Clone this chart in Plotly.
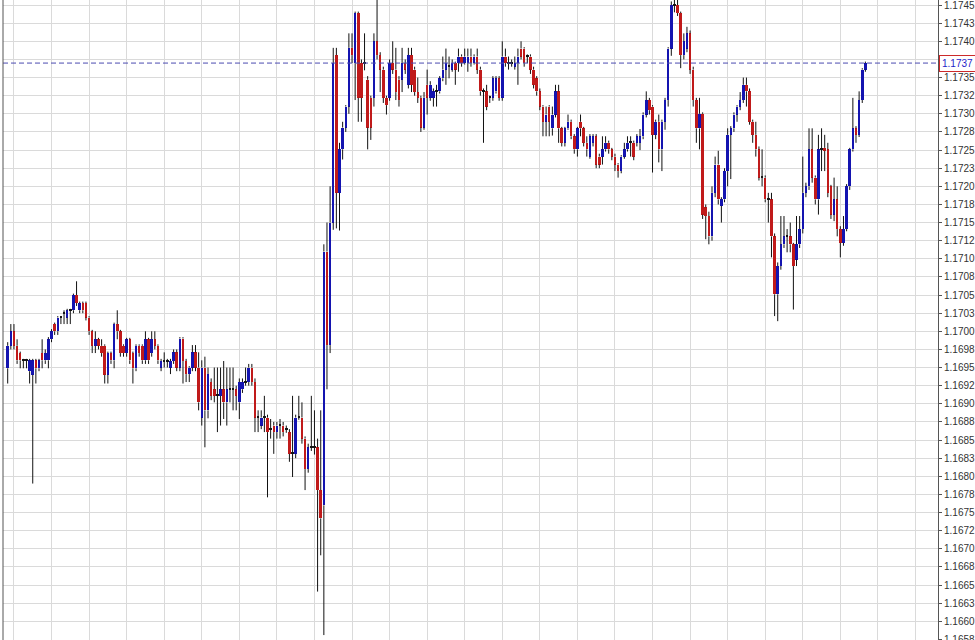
import plotly.graph_objects as go

# ---- OHLC data (one bar per entry) ----
bar_open = [
    1.16949, 1.16980, 1.17000, 1.16980, 1.16970, 1.16960, 1.16960, 1.16945, 1.16940, 1.16960,
    1.16949, 1.16970, 1.16960, 1.16960, 1.16989, 1.17010, 1.17000, 1.17019, 1.17024, 1.17019,
    1.17029, 1.17029, 1.17050, 1.17029, 1.17039, 1.17039, 1.17019, 1.17000, 1.16980, 1.16989,
    1.16980, 1.16980, 1.16940, 1.16970, 1.16960, 1.17010, 1.17000, 1.16980, 1.16970, 1.16989,
    1.16970, 1.16949, 1.16980, 1.16980, 1.16960, 1.16989, 1.16970, 1.16989, 1.16980, 1.16950,
    1.16959, 1.16959, 1.16950, 1.16959, 1.16971, 1.16950, 1.16990, 1.16959, 1.16941, 1.16950,
    1.16971, 1.16950, 1.16881, 1.16950, 1.16891, 1.16930, 1.16920, 1.16911, 1.16911, 1.16920,
    1.16902, 1.16920, 1.16920, 1.16920, 1.16902, 1.16920, 1.16930, 1.16930, 1.16950, 1.16930,
    1.16881, 1.16870, 1.16881, 1.16881, 1.16865, 1.16870, 1.16861, 1.16870, 1.16870, 1.16865,
    1.16861, 1.16831, 1.16831, 1.16881, 1.16881, 1.16852, 1.16810, 1.16840, 1.16840, 1.16840,
    1.16781, 1.16760, 1.17110, 1.16981, 1.17150, 1.17381, 1.17191, 1.17251, 1.17281, 1.17310,
    1.17391, 1.17370, 1.17439, 1.17370, 1.17370, 1.17347, 1.17322, 1.17322, 1.17400, 1.17381,
    1.17361, 1.17322, 1.17322, 1.17370, 1.17361, 1.17347, 1.17347, 1.17370, 1.17340, 1.17381,
    1.17361, 1.17330, 1.17322, 1.17281, 1.17340, 1.17322, 1.17322, 1.17331, 1.17331, 1.17349,
    1.17361, 1.17365, 1.17361, 1.17370, 1.17370, 1.17379, 1.17370, 1.17370, 1.17379, 1.17370,
    1.17379, 1.17361, 1.17331, 1.17331, 1.17322, 1.17322, 1.17331, 1.17349, 1.17322, 1.17379,
    1.17370, 1.17370, 1.17365, 1.17370, 1.17390, 1.17390, 1.17379, 1.17379, 1.17361, 1.17349,
    1.17331, 1.17310, 1.17289, 1.17310, 1.17280, 1.17299, 1.17331, 1.17280, 1.17260, 1.17280,
    1.17289, 1.17269, 1.17251, 1.17289, 1.17280, 1.17260, 1.17241, 1.17260, 1.17269, 1.17241,
    1.17241, 1.17251, 1.17260, 1.17251, 1.17241, 1.17230, 1.17221, 1.17241, 1.17251, 1.17260,
    1.17260, 1.17260, 1.17260, 1.17269, 1.17299, 1.17319, 1.17310, 1.17271, 1.17289, 1.17251,
    1.17289, 1.17319, 1.17390, 1.17450, 1.17450, 1.17439, 1.17381, 1.17390, 1.17411, 1.17361,
    1.17319, 1.17280, 1.17300, 1.17171, 1.17159, 1.17131, 1.17191, 1.17230, 1.17173, 1.17182,
    1.17221, 1.17271, 1.17280, 1.17299, 1.17310, 1.17319, 1.17340, 1.17331, 1.17289, 1.17271,
    1.17251, 1.17212, 1.17212, 1.17182, 1.17182, 1.17131, 1.17051, 1.17090, 1.17120, 1.17131,
    1.17131, 1.17120, 1.17099, 1.17120, 1.17141, 1.17191, 1.17200, 1.17251, 1.17212, 1.17182,
    1.17251, 1.17253, 1.17251, 1.17200, 1.17161, 1.17182, 1.17141, 1.17122, 1.17141, 1.17200,
    1.17251, 1.17280, 1.17271, 1.17319, 1.17361,
]
bar_high = [
    1.16985, 1.17010, 1.17010, 1.16989, 1.16972, 1.16962, 1.16962, 1.16962, 1.16962, 1.16962,
    1.16962, 1.16989, 1.16975, 1.16992, 1.17003, 1.17012, 1.17021, 1.17021, 1.17029, 1.17031,
    1.17031, 1.17052, 1.17069, 1.17041, 1.17041, 1.17041, 1.17021, 1.17002, 1.17000, 1.16991,
    1.16989, 1.16982, 1.16972, 1.16972, 1.17012, 1.17029, 1.17002, 1.16982, 1.16991, 1.16991,
    1.16972, 1.16982, 1.16982, 1.16982, 1.17000, 1.16991, 1.17000, 1.17000, 1.16982, 1.16962,
    1.16971, 1.16962, 1.16962, 1.16975, 1.16975, 1.16992, 1.16992, 1.16962, 1.16952, 1.16981,
    1.16981, 1.16971, 1.16960, 1.16965, 1.16950, 1.16935, 1.16950, 1.16950, 1.16950, 1.16959,
    1.16950, 1.16950, 1.16950, 1.16925, 1.16935, 1.16935, 1.16950, 1.16955, 1.16955, 1.16935,
    1.16891, 1.16891, 1.16911, 1.16885, 1.16879, 1.16875, 1.16875, 1.16879, 1.16875, 1.16870,
    1.16865, 1.16911, 1.16885, 1.16911, 1.16902, 1.16855, 1.16845, 1.16911, 1.16891, 1.16852,
    1.16891, 1.17120, 1.17150, 1.17200, 1.17391, 1.17391, 1.17260, 1.17289, 1.17312, 1.17411,
    1.17411, 1.17441, 1.17441, 1.17375, 1.17411, 1.17352, 1.17325, 1.17411, 1.17470, 1.17385,
    1.17365, 1.17325, 1.17375, 1.17400, 1.17391, 1.17352, 1.17391, 1.17375, 1.17391, 1.17391,
    1.17365, 1.17350, 1.17325, 1.17330, 1.17361, 1.17345, 1.17335, 1.17340, 1.17352, 1.17379,
    1.17390, 1.17379, 1.17375, 1.17372, 1.17390, 1.17382, 1.17390, 1.17390, 1.17390, 1.17382,
    1.17390, 1.17365, 1.17335, 1.17340, 1.17325, 1.17352, 1.17352, 1.17352, 1.17400, 1.17390,
    1.17379, 1.17375, 1.17379, 1.17390, 1.17400, 1.17392, 1.17382, 1.17382, 1.17365, 1.17352,
    1.17335, 1.17312, 1.17310, 1.17312, 1.17310, 1.17340, 1.17340, 1.17282, 1.17282, 1.17299,
    1.17292, 1.17272, 1.17282, 1.17299, 1.17282, 1.17269, 1.17272, 1.17272, 1.17272, 1.17245,
    1.17269, 1.17269, 1.17263, 1.17253, 1.17245, 1.17232, 1.17243, 1.17260, 1.17269, 1.17269,
    1.17263, 1.17272, 1.17279, 1.17302, 1.17331, 1.17322, 1.17312, 1.17292, 1.17299, 1.17292,
    1.17322, 1.17392, 1.17455, 1.17460, 1.17460, 1.17441, 1.17411, 1.17420, 1.17415, 1.17365,
    1.17322, 1.17322, 1.17302, 1.17175, 1.17165, 1.17200, 1.17241, 1.17249, 1.17185, 1.17225,
    1.17280, 1.17283, 1.17302, 1.17312, 1.17330, 1.17350, 1.17350, 1.17335, 1.17292, 1.17289,
    1.17255, 1.17251, 1.17215, 1.17191, 1.17191, 1.17135, 1.17095, 1.17159, 1.17159, 1.17141,
    1.17150, 1.17122, 1.17159, 1.17159, 1.17241, 1.17205, 1.17280, 1.17280, 1.17215, 1.17271,
    1.17280, 1.17271, 1.17260, 1.17202, 1.17212, 1.17200, 1.17145, 1.17159, 1.17203, 1.17253,
    1.17322, 1.17283, 1.17331, 1.17363, 1.17372,
]
bar_low = [
    1.16928, 1.16975, 1.16975, 1.16955, 1.16949, 1.16949, 1.16949, 1.16928, 1.16790, 1.16928,
    1.16945, 1.16949, 1.16955, 1.16949, 1.16985, 1.16995, 1.16995, 1.17010, 1.17010, 1.17010,
    1.17010, 1.17025, 1.17035, 1.17025, 1.17025, 1.17015, 1.16995, 1.16970, 1.16970, 1.16975,
    1.16965, 1.16928, 1.16928, 1.16955, 1.16949, 1.16989, 1.16965, 1.16965, 1.16965, 1.16955,
    1.16928, 1.16945, 1.16965, 1.16955, 1.16955, 1.16955, 1.16965, 1.16975, 1.16955, 1.16945,
    1.16950, 1.16950, 1.16941, 1.16955, 1.16945, 1.16945, 1.16928, 1.16930, 1.16930, 1.16945,
    1.16945, 1.16891, 1.16870, 1.16840, 1.16880, 1.16905, 1.16902, 1.16861, 1.16870, 1.16879,
    1.16870, 1.16902, 1.16891, 1.16891, 1.16879, 1.16915, 1.16925, 1.16925, 1.16925, 1.16861,
    1.16861, 1.16865, 1.16861, 1.16771, 1.16852, 1.16831, 1.16852, 1.16852, 1.16855, 1.16860,
    1.16820, 1.16799, 1.16825, 1.16878, 1.16845, 1.16781, 1.16805, 1.16835, 1.16830, 1.16641,
    1.16691, 1.16581, 1.16920, 1.16970, 1.17140, 1.17142, 1.17139, 1.17237, 1.17275, 1.17300,
    1.17370, 1.17319, 1.17289, 1.17289, 1.17360, 1.17251, 1.17264, 1.17310, 1.17375, 1.17330,
    1.17315, 1.17299, 1.17318, 1.17355, 1.17319, 1.17310, 1.17330, 1.17355, 1.17335, 1.17330,
    1.17325, 1.17315, 1.17275, 1.17278, 1.17299, 1.17318, 1.17310, 1.17310, 1.17328, 1.17345,
    1.17340, 1.17349, 1.17358, 1.17340, 1.17358, 1.17365, 1.17368, 1.17358, 1.17365, 1.17368,
    1.17355, 1.17325, 1.17260, 1.17305, 1.17315, 1.17318, 1.17328, 1.17318, 1.17318, 1.17365,
    1.17361, 1.17365, 1.17361, 1.17340, 1.17375, 1.17365, 1.17370, 1.17355, 1.17335, 1.17325,
    1.17305, 1.17269, 1.17269, 1.17269, 1.17270, 1.17295, 1.17260, 1.17255, 1.17255, 1.17278,
    1.17265, 1.17245, 1.17241, 1.17269, 1.17255, 1.17241, 1.17238, 1.17255, 1.17225, 1.17225,
    1.17230, 1.17248, 1.17245, 1.17236, 1.17221, 1.17212, 1.17218, 1.17238, 1.17248, 1.17241,
    1.17236, 1.17255, 1.17250, 1.17265, 1.17295, 1.17299, 1.17219, 1.17265, 1.17233, 1.17221,
    1.17278, 1.17310, 1.17380, 1.17440, 1.17435, 1.17363, 1.17375, 1.17385, 1.17355, 1.17310,
    1.17260, 1.17251, 1.17155, 1.17127, 1.17120, 1.17125, 1.17185, 1.17175, 1.17150, 1.17178,
    1.17200, 1.17210, 1.17275, 1.17289, 1.17305, 1.17315, 1.17310, 1.17285, 1.17260, 1.17241,
    1.17208, 1.17200, 1.17178, 1.17150, 1.17102, 1.17021, 1.17014, 1.17085, 1.17115, 1.17109,
    1.17109, 1.17030, 1.17090, 1.17115, 1.17135, 1.17185, 1.17195, 1.17205, 1.17175, 1.17161,
    1.17221, 1.17221, 1.17185, 1.17155, 1.17152, 1.17131, 1.17102, 1.17118, 1.17138, 1.17195,
    1.17248, 1.17260, 1.17268, 1.17315, 1.17358,
]
bar_close = [
    1.16980, 1.17000, 1.16980, 1.16960, 1.16960, 1.16960, 1.16960, 1.16960, 1.16960, 1.16949,
    1.16960, 1.16960, 1.16970, 1.16989, 1.17000, 1.17000, 1.17019, 1.17019, 1.17024, 1.17029,
    1.17029, 1.17050, 1.17039, 1.17039, 1.17029, 1.17019, 1.17000, 1.16980, 1.16989, 1.16980,
    1.16970, 1.16940, 1.16970, 1.16960, 1.17010, 1.17000, 1.16970, 1.16970, 1.16989, 1.16960,
    1.16949, 1.16980, 1.16970, 1.16960, 1.16989, 1.16960, 1.16989, 1.16980, 1.16960, 1.16959,
    1.16959, 1.16959, 1.16959, 1.16971, 1.16950, 1.16990, 1.16959, 1.16941, 1.16950, 1.16971,
    1.16950, 1.16902, 1.16950, 1.16891, 1.16941, 1.16911, 1.16911, 1.16911, 1.16920, 1.16902,
    1.16920, 1.16920, 1.16920, 1.16911, 1.16930, 1.16930, 1.16930, 1.16950, 1.16930, 1.16881,
    1.16881, 1.16881, 1.16881, 1.16861, 1.16865, 1.16861, 1.16870, 1.16870, 1.16861, 1.16865,
    1.16831, 1.16831, 1.16881, 1.16881, 1.16852, 1.16810, 1.16840, 1.16840, 1.16840, 1.16781,
    1.16742, 1.17110, 1.16981, 1.17150, 1.17370, 1.17191, 1.17251, 1.17281, 1.17310, 1.17391,
    1.17381, 1.17439, 1.17322, 1.17322, 1.17370, 1.17281, 1.17281, 1.17400, 1.17381, 1.17361,
    1.17322, 1.17312, 1.17370, 1.17361, 1.17330, 1.17319, 1.17370, 1.17361, 1.17381, 1.17340,
    1.17330, 1.17322, 1.17281, 1.17322, 1.17322, 1.17340, 1.17331, 1.17331, 1.17349, 1.17361,
    1.17370, 1.17365, 1.17370, 1.17361, 1.17379, 1.17370, 1.17379, 1.17379, 1.17370, 1.17379,
    1.17361, 1.17331, 1.17331, 1.17310, 1.17322, 1.17349, 1.17349, 1.17322, 1.17379, 1.17370,
    1.17370, 1.17370, 1.17370, 1.17379, 1.17379, 1.17370, 1.17379, 1.17361, 1.17340, 1.17331,
    1.17310, 1.17289, 1.17299, 1.17289, 1.17299, 1.17331, 1.17280, 1.17260, 1.17280, 1.17289,
    1.17269, 1.17251, 1.17280, 1.17280, 1.17260, 1.17251, 1.17269, 1.17269, 1.17230, 1.17230,
    1.17251, 1.17260, 1.17251, 1.17241, 1.17230, 1.17221, 1.17241, 1.17251, 1.17260, 1.17260,
    1.17241, 1.17269, 1.17269, 1.17299, 1.17319, 1.17305, 1.17271, 1.17289, 1.17251, 1.17289,
    1.17319, 1.17390, 1.17450, 1.17450, 1.17439, 1.17381, 1.17400, 1.17411, 1.17361, 1.17319,
    1.17280, 1.17300, 1.17161, 1.17159, 1.17131, 1.17191, 1.17230, 1.17182, 1.17182, 1.17221,
    1.17271, 1.17280, 1.17299, 1.17310, 1.17319, 1.17340, 1.17331, 1.17289, 1.17271, 1.17251,
    1.17212, 1.17212, 1.17182, 1.17182, 1.17131, 1.17051, 1.17090, 1.17120, 1.17131, 1.17131,
    1.17120, 1.17090, 1.17120, 1.17141, 1.17191, 1.17200, 1.17251, 1.17212, 1.17182, 1.17251,
    1.17251, 1.17249, 1.17191, 1.17161, 1.17182, 1.17141, 1.17122, 1.17141, 1.17200, 1.17251,
    1.17280, 1.17271, 1.17319, 1.17361, 1.17370,
]

y_tick_values = [
    1.17450, 1.17425, 1.17400, 1.17375, 1.17350, 1.17325, 1.17300, 1.17275, 1.17250,
    1.17225, 1.17200, 1.17175, 1.17150, 1.17125, 1.17100, 1.17075, 1.17050, 1.17025,
    1.17000, 1.16975, 1.16950, 1.16925, 1.16900, 1.16875, 1.16850, 1.16825, 1.16800,
    1.16775, 1.16750, 1.16725, 1.16700, 1.16675, 1.16650, 1.16625, 1.16600, 1.16575,
]
y_tick_labels = [
    "1.1745", "1.1743", "1.1740", "1.1738", "1.1735", "1.1732", "1.1730", "1.1728", "1.1725",
    "1.1723", "1.1720", "1.1718", "1.1715", "1.1712", "1.1710", "1.1708", "1.1705", "1.1703",
    "1.1700", "1.1698", "1.1695", "1.1692", "1.1690", "1.1688", "1.1685", "1.1683", "1.1680",
    "1.1678", "1.1675", "1.1672", "1.1670", "1.1668", "1.1665", "1.1663", "1.1660", "1.1658",
]
last_price = 1.1737
last_price_label = "1.1737"

# ---- styling ----
UP = "#1414b0"
DOWN = "#c01a1a"
DOJI = "#1a1a1a"
WICK = "#111111"
GRID = "#dadada"
AXIS = "#555555"
FONT = "Liberation Sans, Arial, sans-serif"

n = len(bar_close)
xs = list(range(n))

colors, bases, heights = [], [], []
for o, c in zip(bar_open, bar_close):
    lo, hi = min(o, c), max(o, c)
    bases.append(lo)
    heights.append(max(hi - lo, 0.000013))
    colors.append(UP if c > o else (DOWN if c < o else DOJI))

wx, wy = [], []
for i, (o, h, l, c) in enumerate(zip(bar_open, bar_high, bar_low, bar_close)):
    top, bot = max(o, c), min(o, c)
    if h > top:
        wx += [i, i, None]
        wy += [h, top, None]
    if l < bot:
        wx += [i, i, None]
        wy += [bot, l, None]

fig = go.Figure()
fig.add_trace(go.Scatter(x=wx, y=wy, mode="lines",
                         line=dict(color=WICK, width=1),
                         hoverinfo="skip", showlegend=False))
fig.add_trace(go.Bar(x=xs, y=heights, base=bases, width=0.8,
                     marker=dict(color=colors, line=dict(width=0)),
                     showlegend=False))

fig.add_shape(type="line", xref="paper", yref="y", x0=0, x1=1,
              y0=last_price, y1=last_price,
              line=dict(color="#4b4bb0", width=1, dash="5px,3px"), layer="above")
fig.add_shape(type="line", xref="paper", yref="paper", x0=0, x1=0, y0=0, y1=1,
              line=dict(color=AXIS, width=1))

fig.add_annotation(x=1, xref="paper", xanchor="left", xshift=1,
                   y=last_price, yref="y", yanchor="middle",
                   text=last_price_label, showarrow=False,
                   font=dict(family=FONT, size=10, color="#1e1ec8"),
                   bgcolor="white", bordercolor="#cc2a2a", borderwidth=1, borderpad=2)

fig.update_layout(
    width=975, height=640,
    margin=dict(l=3, r=37, t=0, b=0, pad=0, autoexpand=False),
    plot_bgcolor="white", paper_bgcolor="white",
    showlegend=False, bargap=0,
    font=dict(family=FONT, size=10, color="#333333"),
)
fig.update_xaxes(range=[-1.5, 297.2], tickvals=list(range(2, 298, 12)),
                 showticklabels=False, ticks="", showgrid=True, gridcolor=GRID,
                 gridwidth=1, zeroline=False, showline=False)
fig.update_yaxes(side="right", range=[1.165742, 1.17457],
                 tickvals=y_tick_values, ticktext=y_tick_labels,
                 ticks="outside", ticklen=3, tickcolor=AXIS,
                 ticklabeloverflow="allow",
                 showgrid=True, gridcolor=GRID, gridwidth=1,
                 showline=True, linecolor=AXIS, linewidth=1, zeroline=False,
                 automargin=False,
                 tickfont=dict(family=FONT, size=10, color="#333333"))

fig.write_html(
    "out.html",
    config={"displayModeBar": False},
    post_script="document.body.style.margin='0';document.body.style.overflow='hidden';"
                "document.documentElement.style.overflow='hidden';",
)
